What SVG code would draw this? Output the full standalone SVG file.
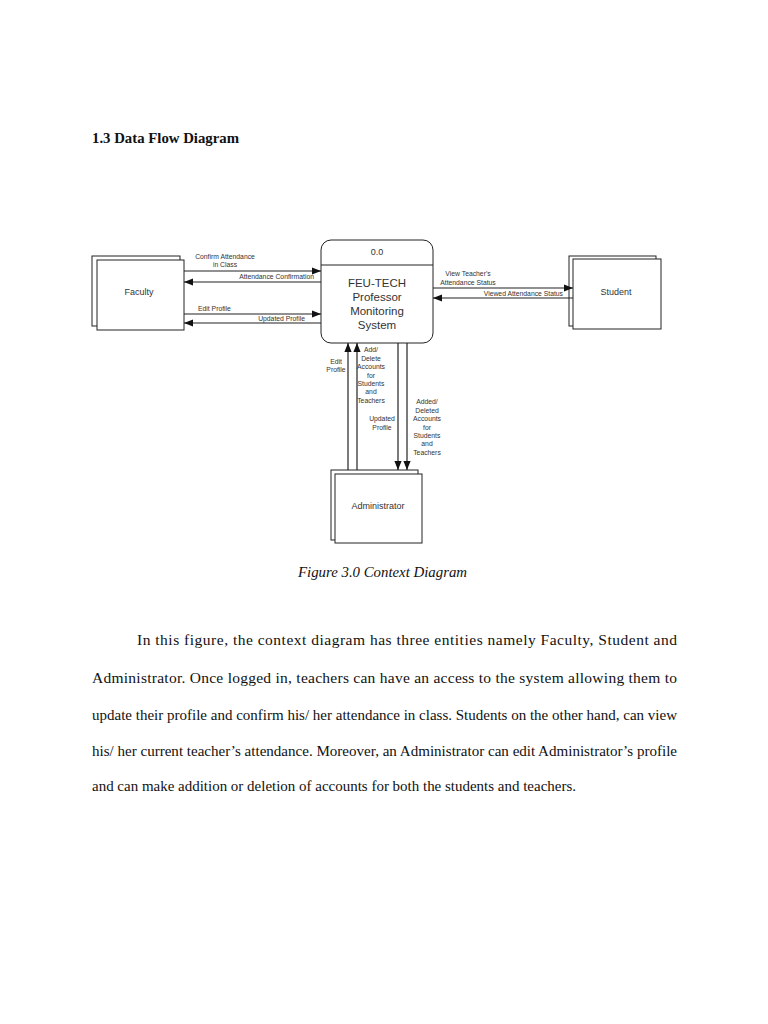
<svg xmlns="http://www.w3.org/2000/svg" width="768" height="1024" viewBox="0 0 768 1024">
<defs>
<marker id="ah" viewBox="0 0 10 10" refX="10" refY="5" markerWidth="9" markerHeight="9" markerUnits="userSpaceOnUse" orient="auto">
<path d="M0,1 L10,5 L0,9 Z" fill="#111"/>
</marker>
<style>
.box{fill:#fff;stroke:#222;stroke-width:1}
.ln{stroke:#222;stroke-width:1.2;fill:none;marker-end:url(#ah)}
.lb{font-family:"Liberation Sans",Arial,sans-serif;font-size:6.8px;fill:#333}
.nm{font-family:"Liberation Sans",Arial,sans-serif;font-size:9px;fill:#333;text-anchor:middle}
.pt{font-family:"Liberation Sans",Arial,sans-serif;font-size:11.5px;fill:#333;text-anchor:middle}
.body{font-family:"Liberation Serif","Times New Roman",serif;font-size:15.5px;fill:#111}
</style>
</defs>
<rect width="768" height="1024" fill="#fff"/>
<text x="92" y="143" font-family="'Liberation Serif','Times New Roman',serif" font-size="14.5" font-weight="bold" fill="#111" textLength="147" lengthAdjust="spacingAndGlyphs">1.3 Data Flow Diagram</text>

<g id="faculty">
<rect class="box" x="92" y="256" width="88" height="70"/>
<rect class="box" x="97" y="260" width="87" height="70"/>
<text class="nm" x="139" y="295">Faculty</text>
</g>
<g id="process">
<rect class="box" x="321" y="240" width="112" height="103" rx="10"/>
<line x1="321" y1="265" x2="433" y2="265" stroke="#222" stroke-width="1"/>
<text class="nm" x="377" y="255">0.0</text>
<text class="pt" x="377" y="287">FEU-TECH</text>
<text class="pt" x="377" y="301">Professor</text>
<text class="pt" x="377" y="315">Monitoring</text>
<text class="pt" x="377" y="329">System</text>
</g>
<g id="student">
<rect class="box" x="569" y="256" width="87" height="70"/>
<rect class="box" x="573" y="259" width="88" height="70"/>
<text class="nm" x="616" y="295">Student</text>
</g>
<g id="administrator">
<rect class="box" x="331" y="470" width="87" height="70"/>
<rect class="box" x="335" y="474" width="87" height="69"/>
<text class="nm" x="378" y="509">Administrator</text>
</g>

<g id="connectors">
<line class="ln" x1="184" y1="271" x2="321" y2="271"/>
<line class="ln" x1="321" y1="282" x2="184" y2="282"/>
<line class="ln" x1="184" y1="314" x2="321" y2="314"/>
<line class="ln" x1="321" y1="323" x2="184" y2="323"/>
<line class="ln" x1="433" y1="288" x2="573" y2="288"/>
<line class="ln" x1="573" y1="298" x2="433" y2="298"/>
<line class="ln" x1="348" y1="470" x2="348" y2="343"/>
<line class="ln" x1="357" y1="470" x2="357" y2="343"/>
<line class="ln" x1="398" y1="343" x2="398" y2="470"/>
<line class="ln" x1="407" y1="343" x2="407" y2="470"/>
</g>

<g id="labels">
<text class="lb" x="225" y="259" text-anchor="middle">Confirm Attendance</text>
<text class="lb" x="225" y="267" text-anchor="middle">in Class</text>
<text class="lb" x="314" y="279" text-anchor="end">Attendance Confirmation</text>
<text class="lb" x="198" y="311">Edit Profile</text>
<text class="lb" x="305" y="321" text-anchor="end">Updated Profile</text>
<text class="lb" x="468" y="276" text-anchor="middle">View Teacher's</text>
<text class="lb" x="468" y="285" text-anchor="middle">Attendance Status</text>
<text class="lb" x="563" y="296" text-anchor="end">Viewed Attendance Status</text>
<text class="lb" x="336" y="364" text-anchor="middle">Edit</text>
<text class="lb" x="336" y="372" text-anchor="middle">Profile</text>
<text class="lb" text-anchor="middle"><tspan x="371" y="352">Add/</tspan><tspan x="371" y="361">Delete</tspan><tspan x="371" y="369">Accounts</tspan><tspan x="371" y="378">for</tspan><tspan x="371" y="386">Students</tspan><tspan x="371" y="394">and</tspan><tspan x="371" y="403">Teachers</tspan></text>
<text class="lb" x="382" y="421" text-anchor="middle">Updated</text>
<text class="lb" x="382" y="430" text-anchor="middle">Profile</text>
<text class="lb" text-anchor="middle"><tspan x="427" y="404">Added/</tspan><tspan x="427" y="413">Deleted</tspan><tspan x="427" y="421">Accounts</tspan><tspan x="427" y="430">for</tspan><tspan x="427" y="438">Students</tspan><tspan x="427" y="446">and</tspan><tspan x="427" y="455">Teachers</tspan></text>
</g>

<text x="298" y="577" font-family="'Liberation Serif','Times New Roman',serif" font-size="14" font-style="italic" fill="#111" textLength="169" lengthAdjust="spacingAndGlyphs">Figure 3.0 Context Diagram</text>

<text class="body" x="137" y="645" textLength="540" lengthAdjust="spacing">In this figure, the context diagram has three entities namely Faculty, Student and</text>
<text class="body" x="92" y="683" textLength="585" lengthAdjust="spacing">Administrator. Once logged in, teachers can have an access to the system allowing them to</text>
<text class="body" x="92" y="720" textLength="585" lengthAdjust="spacingAndGlyphs">update their profile and confirm his/ her attendance in class. Students on the other hand, can view</text>
<text class="body" x="92" y="756" textLength="585" lengthAdjust="spacingAndGlyphs">his/ her current teacher’s attendance. Moreover, an Administrator can edit Administrator’s profile</text>
<text class="body" x="92" y="791" textLength="484" lengthAdjust="spacingAndGlyphs">and can make addition or deletion of accounts for both the students and teachers.</text>
</svg>
